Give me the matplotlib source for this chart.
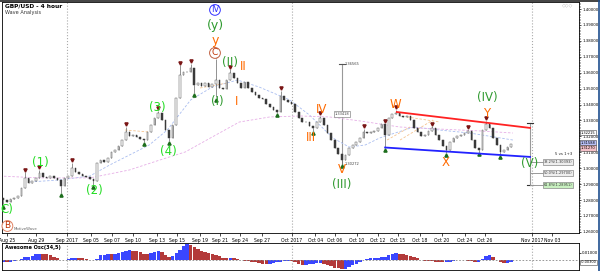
import numpy as np
import matplotlib.pyplot as plt
from matplotlib import transforms

# GBP/USD 4 hour, one candle per two 4h bars (x unit = 4h bar)
closes = [1.2801, 1.2788, 1.2807, 1.2813, 1.2826, 1.2876, 1.2939, 1.2907, 1.2920, 1.2939,
          1.2970, 1.2945, 1.2939, 1.2951, 1.2939, 1.2926, 1.2888, 1.2939, 1.2951, 1.3001,
          1.2976, 1.2964, 1.2951, 1.2945, 1.2932, 1.2920, 1.3033, 1.3052, 1.3039, 1.3064,
          1.3102, 1.3115, 1.3140, 1.3177, 1.3228, 1.3202, 1.3209, 1.3196, 1.3184, 1.3177,
          1.3228, 1.3271, 1.3315, 1.3347, 1.3303, 1.3240, 1.3190, 1.3271, 1.3441, 1.3586,
          1.3604, 1.3604, 1.3630, 1.3523, 1.3535, 1.3516, 1.3535, 1.3510, 1.3529, 1.3554,
          1.3504, 1.3498, 1.3554, 1.3598, 1.3567, 1.3535, 1.3504, 1.3542, 1.3504, 1.3479,
          1.3460, 1.3441, 1.3435, 1.3403, 1.3385, 1.3366, 1.3353, 1.3454, 1.3429, 1.3416,
          1.3403, 1.3353, 1.3315, 1.3290, 1.3290, 1.3265, 1.3253, 1.3290, 1.3315, 1.3271,
          1.3221, 1.3177, 1.3127, 1.3089, 1.3052, 1.3083, 1.3127, 1.3146, 1.3165, 1.3190,
          1.3228, 1.3221, 1.3228, 1.3234, 1.3253, 1.3278, 1.3209, 1.3315, 1.3341, 1.3347,
          1.3328, 1.3322, 1.3328, 1.3303, 1.3253, 1.3228, 1.3202, 1.3209, 1.3234, 1.3253,
          1.3209, 1.3177, 1.3140, 1.3115, 1.3165, 1.3190, 1.3202, 1.3209, 1.3221, 1.3234,
          1.3177, 1.3127, 1.3115, 1.3240, 1.3278, 1.3253, 1.3190, 1.3146, 1.3102, 1.3115,
          1.3133, 1.3152]

# fractal highs / lows (candle index, price)
hi_idx = [6, 10, 19, 34, 43, 49, 52, 59, 63, 77, 88, 100, 106, 109, 119, 129, 134]
hi_vals = [1.2976, 1.2989, 1.3033, 1.3259, 1.3360, 1.3648, 1.3655, 1.3686, 1.3623, 1.3485,
           1.3328, 1.3247, 1.3278, 1.3366, 1.3265, 1.3240, 1.3297]
lo_idx = [0, 16, 25, 39, 46, 53, 59, 76, 86, 94, 106, 123, 132, 138]
lo_vals = [1.2775, 1.2845, 1.2895, 1.3165, 1.3171, 1.3473, 1.3447, 1.3347, 1.3234, 1.3027,
           1.3127, 1.3096, 1.3102, 1.3083]

# moving averages (bar, price)
ma_fast_x = [15, 31, 48, 59, 70, 81, 91, 104, 116, 130, 142, 159, 170, 183, 192, 201, 209, 228, 242, 259, 276, 283]
ma_fast_y = [1.2914, 1.2926, 1.2951, 1.3020, 1.3083, 1.3146, 1.3240, 1.3429, 1.3510, 1.3554, 1.3510,
             1.3429, 1.3334, 1.3190, 1.3133, 1.3146, 1.3190, 1.3259, 1.3240, 1.3221, 1.3190, 1.3177]
ma_slow_x = [-2, 20, 48, 70, 87, 101, 115, 131, 148, 165, 181, 198, 220, 242, 265, 283]
ma_slow_y = [1.2951, 1.2939, 1.2939, 1.2989, 1.3052, 1.3102, 1.3190, 1.3290, 1.3322, 1.3328,
             1.3322, 1.3297, 1.3259, 1.3246, 1.3234, 1.3221]

# small dashed trend lines (x0, y0, x1, y1)
seg_x0 = [67.5, 109.2, 213.1, 224.2, 220.3]
seg_y0 = [1.3240, 1.3504, 1.3177, 1.3322, 1.3177]
seg_x1 = [80.3, 124.2, 225.8, 242.5, 238.6]
seg_y1 = [1.3228, 1.3535, 1.3259, 1.3290, 1.3303]

# channel lines
red_x = [218.5, 292.5]
red_y = [1.3353, 1.3253]
blue_x = [212, 292.5]
blue_y = [1.3130, 1.3071]

fib_names = ["38.2%(1.30393)", "50.0%(1.29700)", "61.8%(1.28951)"]
fib_vals = [1.30393, 1.29700, 1.28951]

# price boxes on the right scale
box_vals = [1.3222, 1.3159, 1.3127]
box_text = ["1.32215", "1.31588", "1.31270"]

# Awesome oscillator, one value per candle
ao = [-0.003, -0.003, -0.002, -0.001, 0.000, 0.002, 0.004, 0.005, 0.006, 0.008,
      0.009, 0.0088, 0.0078, 0.0068, 0.005, 0.003, 0.001, 0.0005, 0.002, 0.003,
      0.0032, 0.003, 0.0025, 0.0015, 0.0005, 0.0003, 0.002, 0.0065, 0.0075, 0.008,
      0.0078, 0.0085, 0.0095, 0.011, 0.013, 0.0136, 0.0128, 0.012, 0.0105, 0.009,
      0.0085, 0.0095, 0.011, 0.012, 0.0105, 0.0075, 0.004, 0.006, 0.010, 0.014,
      0.019, 0.0218, 0.021, 0.018, 0.0155, 0.013, 0.011, 0.0095, 0.0085, 0.0072,
      0.0055, 0.0035, 0.0025, 0.0035, 0.0028, 0.0012, 0.0005, -0.0005, -0.0015, -0.0022,
      -0.003, -0.0038, -0.0045, -0.005, -0.0048, -0.004, -0.003, -0.002, -0.0012, -0.0008,
      -0.001, -0.0025, -0.005, -0.006, -0.0058, -0.005, -0.0045, -0.004, -0.0038, -0.0045,
      -0.006, -0.008, -0.0098, -0.011, -0.012, -0.0115, -0.009, -0.007, -0.0045, -0.002,
      0.001, 0.002, 0.0025, 0.003, 0.0035, 0.0045, 0.005, 0.0065, 0.0085, 0.0092,
      0.0088, 0.0078, 0.0068, 0.0055, 0.004, 0.0025, 0.001, -0.0005, -0.0012, -0.0015,
      -0.002, -0.0028, -0.003, -0.0028, -0.002, -0.001, 0.0, 0.0005, 0.0003, -0.0005,
      -0.0012, -0.0025, -0.002, 0.002, 0.0055, 0.0068, 0.004, 0.0005, -0.0025, -0.004,
      -0.0038, -0.003]

date_labels = ["Aug 25", "Aug 29", "Sep 2017", "Sep 05", "Sep 07", "Sep 10", "Sep 13", "Sep 15",
               "Sep 19", "Sep 21", "Sep 24", "Sep 27", "Oct 2017", "Oct 04", "Oct 06", "Oct 10",
               "Oct 12", "Oct 15", "Oct 18", "Oct 20", "Oct 24", "Oct 26", "Nov 2017", "Nov 03"]
date_pos = [2, 18, 35.3, 48.6, 60.3, 71.9, 85.3, 96.4, 109.2, 120.3, 131.4, 143.6, 160.3, 173.1,
            184.2, 196.4, 208.1, 219.2, 231.4, 243.6, 256.4, 267.5, 293.6, 304.7]
month_pos = [35.3, 160.3, 293.6]

ORANGE = '#ff6a00'
DKGREEN = '#2f9a2f'
LTGREEN = '#22dd22'

fig = plt.figure(figsize=(6, 2.71), dpi=100)
ax = fig.add_axes([2/600, 1 - 233/271, 577/600, 231/271])
ax2 = fig.add_axes([2/600, 1.5/271, 577/600, 26.5/271])

x = np.arange(len(closes)) * 2
c = np.array(closes)
o = np.r_[c[0] + 0.001, c[:-1]]
up = c >= o
ax.vlines(x, np.minimum(o, c), np.maximum(o, c), color='#777777', lw=0.5, zorder=3)
ax.bar(x[up], (c - o)[up], bottom=o[up], width=0.9, color='white', edgecolor='#555555', lw=0.35, zorder=4)
ax.bar(x[~up], (c - o)[~up], bottom=o[~up], width=0.9, color='#3a3a3a', edgecolor='#3a3a3a', lw=0.35, zorder=4)

hx = np.array(hi_idx) * 2
lx = np.array(lo_idx) * 2
ax.vlines(hx, np.maximum(o, c)[hi_idx], hi_vals, color='#666666', lw=0.5, zorder=3)
ax.vlines(lx, lo_vals, np.minimum(o, c)[lo_idx], color='#666666', lw=0.5, zorder=3)
up_off = transforms.offset_copy(ax.transData, fig=fig, y=1.8, units='points')
dn_off = transforms.offset_copy(ax.transData, fig=fig, y=-1.8, units='points')
ax.plot(hx, hi_vals, 'v', color='#7a1515', ms=2.3, transform=up_off, zorder=5)
ax.plot(lx, lo_vals, '^', color='#1d6e1d', ms=2.3, transform=dn_off, zorder=5)

ax.plot(ma_fast_x, ma_fast_y, color='#a9bdf0', lw=0.6, ls=(0, (3, 2)), zorder=2)
ax.plot(ma_slow_x, ma_slow_y, color='#e6aee6', lw=0.6, ls=(0, (3, 2)), zorder=2)
for x0, y0, x1, y1 in zip(seg_x0, seg_y0, seg_x1, seg_y1):
    ax.plot([x0, x1], [y0, y1], color='#f5c490', lw=0.6, ls=(0, (3, 2)), zorder=2)

ax.plot(red_x, red_y, color='#ff2222', lw=1.3, zorder=6)
ax.plot(blue_x, blue_y, color='#2222ff', lw=1.3, zorder=6)

# measurement of wave (III)
mb = 188
ax.plot([mb, mb], [1.36565, 1.30272], color='#999999', lw=0.8, zorder=1)
ax.plot([mb - 1.5, mb + 1.5], [1.36565, 1.36565], color='#555555', lw=0.8)
ax.text(mb + 1.5, 1.36565, "1.36565", fontsize=2.6, va='center', color='#444444')
ax.text(mb + 1.5, 1.30272, "1.30272", fontsize=2.6, va='center', color='#444444')
ax.text(mb, 1.33418, "1.33418", fontsize=2.6, ha='center', va='center', color='#444444',
        bbox=dict(boxstyle='square,pad=0.3', fc='white', ec='#888888', lw=0.5))

# projection of wave (V)
pb = 292.5
ax.plot([pb, pb], [1.3284, fib_vals[-1]], color='#999999', lw=0.8)
for yv in [1.3284, fib_vals[-1]]:
    ax.plot([pb - 1.5, pb + 1.5], [yv, yv], color='#333333', lw=0.8)
for name, yv in zip(fib_names, fib_vals):
    ax.plot([pb, 316], [yv, yv], color='#999999', lw=0.7)
    ax.text(308, yv, name, fontsize=2.5, ha='center', va='center', color='#333333',
            bbox=dict(boxstyle='square,pad=0.3', fc='#c8f0c0' if name.startswith('61') else '#eeeeee',
                      ec='#888888', lw=0.5))
ax.text(316, 1.3088, "5 vs 1+3", fontsize=2.8, ha='right', va='center', color='#222222')

for m in month_pos:
    ax.axvline(m, color='#aaaaaa', ls=':', lw=0.8, zorder=0)
    ax2.axvline(m, color='#aaaaaa', ls=':', lw=0.8, zorder=0)

# wave labels
def lab(xv, yv, s, col, fs=8.5, circ=None):
    kw = {}
    if circ:
        kw['bbox'] = dict(boxstyle='circle,pad=0.1', fc='white', ec=circ, lw=0.7)
    ax.text(xv, yv, s, color=col, fontsize=fs, ha='center', va='center', zorder=8, **kw)

lab(20.3, 1.3033, "(1)", LTGREEN)
lab(50.3, 1.2857, "(2)", LTGREEN)
lab(85.3, 1.3384, "(3)", LTGREEN)
lab(91.4, 1.3108, "(4)", LTGREEN)
lab(1.6, 1.2738, "C)", LTGREEN)
lab(2.2, 1.2637, "B", '#c03000', fs=6.5, circ='#e08060')
lab(117.5, 1.3994, "IV", '#3030ff', fs=6, circ='#3030ff')
lab(117.5, 1.3899, "(y)", DKGREEN, fs=9)
lab(117.5, 1.3805, "y", ORANGE, fs=9)
lab(117.5, 1.3724, "C", '#c03000', fs=6.5, circ='#c06040')
lab(118.6, 1.3416, "(I)", DKGREEN)
lab(125.8, 1.3661, "(II)", DKGREEN)
lab(129.7, 1.3416, "I", ORANGE)
lab(133.1, 1.3636, "II", ORANGE)
lab(176.9, 1.3366, "IV", ORANGE)
lab(170.8, 1.3190, "III", ORANGE)
lab(188.1, 1.2989, "V", ORANGE)
lab(188.1, 1.2895, "(III)", DKGREEN)
lab(217.5, 1.3403, "W", ORANGE)
lab(245.8, 1.3033, "X", ORANGE)
lab(268.6, 1.3441, "(IV)", DKGREEN)
lab(268.6, 1.3341, "Y", ORANGE)
lab(292.5, 1.3027, "(V)", DKGREEN)

ax.set_xlim(-0.8, 319.7)
ax.set_ylim(1.2593, 1.4044)
ax.yaxis.tick_right()
yt = np.arange(1.26, 1.4001, 0.01)
ax.set_yticks(yt)
ax.set_yticklabels([f"{v:.5f}" for v in yt])
ax.set_yticks(np.arange(1.26, 1.4044, 0.001), minor=True)
ax.tick_params(axis='y', labelsize=2.8, length=1.5, width=0.5, pad=0.8)
ax.tick_params(axis='y', which='minor', length=1, width=0.4)
ax.set_xticks(date_pos)
ax.set_xticklabels(date_labels)
ax.tick_params(axis='x', labelsize=3.3, length=2, width=0.5, pad=1.5)
for s in ax.spines.values():
    s.set_linewidth(0.6)

box_fc = ['white', '#b8c0f8', '#f4c0c8']
for v, t, fc in zip(box_vals, box_text, box_fc):
    ax.annotate(t, xy=(1.0, v), xycoords=('axes fraction', 'data'), xytext=(1.2, 0),
                textcoords='offset points', fontsize=2.6, va='center', ha='left', annotation_clip=False,
                bbox=dict(boxstyle='square,pad=0.15', fc=fc, ec='#444444', lw=0.4))

fig.text(5/600, 1 - 6/271, "GBP/USD - 4 hour", fontsize=4.2, fontweight='bold', va='center')
fig.text(5/600, 1 - 12.5/271, "Wave Analysis", fontsize=3.6, va='center', color='#333333')
fig.text(14/600, 1 - 229.5/271, "MotiveWave", fontsize=2.8, va='center', color='#666666')
fig.text(568/600, 1 - 5/271, "\u25c7\u25c7\u25c7", fontsize=3.5, va='center', ha='center', color='#aaaaaa')

# oscillator panel
a = np.array(ao)
col = np.where(np.r_[True, np.diff(a) > 0], '#3a46ff', '#b33a3a')
ax2.bar(x, a, width=1.9, color=col, lw=0)
ax2.axhline(0, color='#888888', ls=(0, (2, 2)), lw=0.6)
ax2.set_xlim(-0.8, 319.7)
ax2.set_ylim(-0.0125, 0.0233)
ax2.yaxis.tick_right()
ax2.set_yticks([0.01])
ax2.set_yticklabels(["0.01000"])
ax2.set_xticks([])
ax2.tick_params(axis='y', labelsize=2.8, length=1.5, width=0.5, pad=0.8)
for s in ax2.spines.values():
    s.set_linewidth(0.6)
ax2.text(0.005, 0.82, "Awesome Osc(34,5)", transform=ax2.transAxes, fontsize=3.6,
         fontweight='bold', va='center')
ax2.annotate("-0.00300", xy=(1.0, a[-1]), xycoords=('axes fraction', 'data'), xytext=(1.2, 0),
             textcoords='offset points', fontsize=2.5, va='center', ha='left', annotation_clip=False,
             bbox=dict(boxstyle='square,pad=0.15', fc='white', ec='#444444', lw=0.4))

# outer frame
fig.add_artist(plt.Line2D([0, 1], [0.998, 0.998], color='#222222', lw=1.2))
fig.add_artist(plt.Line2D([0.999, 0.999], [0, 1], color='#1f4f8f', lw=1.2))

fig.savefig("out.png", dpi=100)
